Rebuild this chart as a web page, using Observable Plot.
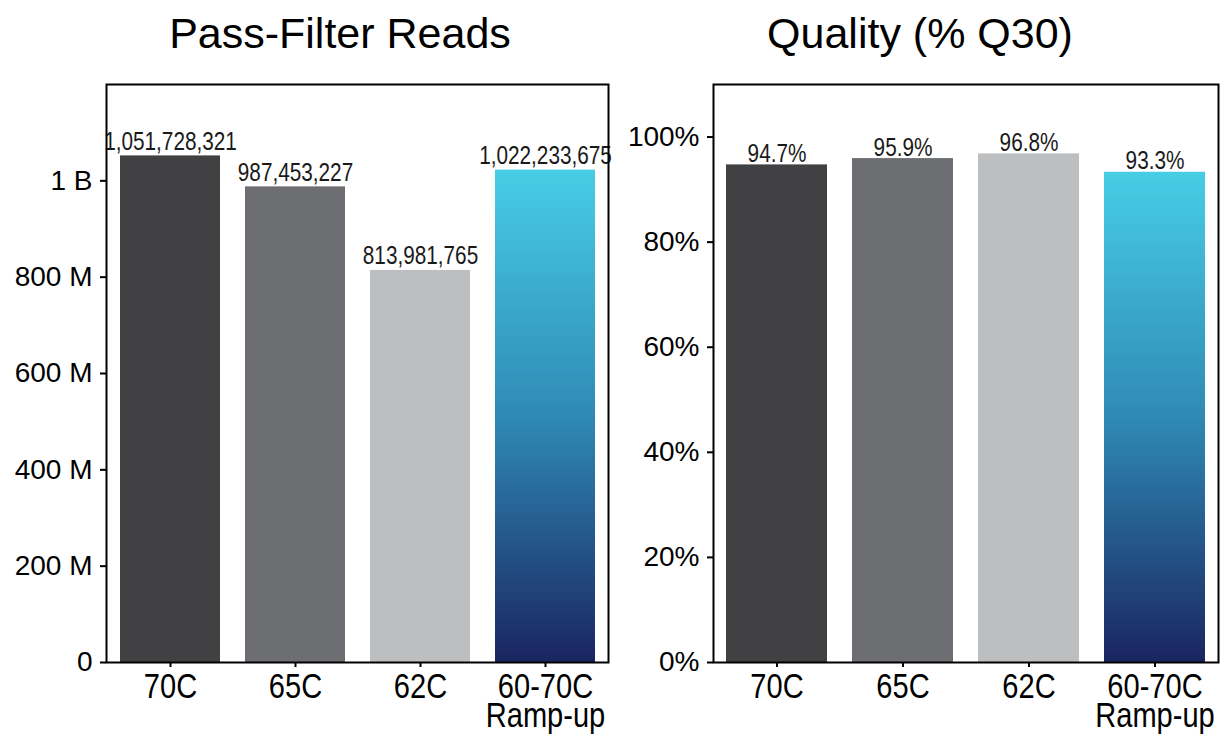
<!DOCTYPE html>
<html>
<head>
<meta charset="utf-8">
<script src="https://cdn.jsdelivr.net/npm/d3@7"></script>
<script src="https://cdn.jsdelivr.net/npm/@observablehq/plot@0.6"></script>
<style>
  html, body { margin: 0; padding: 0; background: #fff; }
  #root { position: relative; width: 1228px; height: 753px; overflow: hidden; font-family: "Liberation Sans", Arial, sans-serif; }
  .title { position: absolute; top: 12px; font-size: 43px; line-height: 1; white-space: nowrap; transform: translateX(-50%); color: #000; }
  .panel { position: absolute; top: 64px; }
</style>
</head>
<body>
<div id="root">
  <div class="title" style="left:340px">Pass-Filter Reads</div>
  <div class="title" style="left:920px">Quality (% Q30)</div>
  <div class="panel" id="left" style="left:0px"></div>
  <div class="panel" id="right" style="left:614px"></div>
</div>
<script>
// ---- data ----
const categories = ["70C", "65C", "62C", "60-70C"];
const categoryLabels = ["70C", "65C", "62C", "60-70C\nRamp-up"];
const barColors = ["#414042", "#6d6e71", "#bcbec0", "ramp"];
const reads = [1051728321, 987453227, 813981765, 1022233675];
const q30 = [0.947, 0.959, 0.968, 0.933];
const readsTicks = [0, 200e6, 400e6, 600e6, 800e6, 1e9];
const readsTickLabels = ["0", "200 M", "400 M", "600 M", "800 M", "1 B"];
const q30Ticks = [0, 0.2, 0.4, 0.6, 0.8, 1.0];
const q30TickLabels = ["0%", "20%", "40%", "60%", "80%", "100%"];
const readsDomain = [0, 1.2e9];
const q30Domain = [0, 1.1];

const REG = '"Liberation Sans", Arial, sans-serif';
const CONDENSE = 0.83; // emulate a narrow face

function makePanel({values, fmt, domain, ticks, tickLabels, gradId, marginLeft, marginRight, labelDy}) {
  const data = categories.map((c, i) => ({
    cat: c,
    value: values[i],
    label: fmt(values[i]),
    color: barColors[i] === "ramp" ? `url(#${gradId})` : barColors[i]
  }));
  const svg = Plot.plot({
    width: 614,
    height: 689,
    marginTop: 20,
    marginBottom: 91,
    marginLeft,
    marginRight,
    style: {fontFamily: REG, background: "white", color: "black"},
    x: {domain: categories, paddingInner: 0.2, paddingOuter: 0.1, axis: null},
    y: {domain, axis: null},
    color: {type: "identity"},
    marks: [
      Plot.barY(data, {x: "cat", y: "value", fill: "color"}),
      Plot.text(data, {x: "cat", y: "value", text: "label", dy: -labelDy, lineAnchor: "bottom",
        fontSize: 25, fill: "#1a1a1a"}),
      Plot.axisY({ticks, tickFormat: d => tickLabels[ticks.indexOf(d)], tickSize: 6, tickPadding: 8,
        fontSize: 28, strokeWidth: 2, label: null}),
      Plot.axisX({tickFormat: d => categoryLabels[categories.indexOf(d)], tickSize: 5, tickPadding: 10,
        fontSize: 35, lineHeight: 0.83, strokeWidth: 2, label: null}),
      Plot.frame({stroke: "black", strokeWidth: 2})
    ]
  });
  const ns = "http://www.w3.org/2000/svg";
  const defs = document.createElementNS(ns, "defs");
  defs.innerHTML = `<linearGradient id="${gradId}" x1="0" y1="0" x2="0" y2="1">
      <stop offset="0" stop-color="#47cde5"/>
      <stop offset="0.5" stop-color="#2f8ab5"/>
      <stop offset="1" stop-color="#1a2560"/>
    </linearGradient>`;
  svg.insertBefore(defs, svg.firstChild);
  return svg;
}

function condense(svg) {
  const groups = svg.querySelectorAll('g[aria-label="text"], g[aria-label="x-axis tick label"]');
  groups.forEach(g => {
    g.querySelectorAll("text").forEach(t => {
      const spans = t.querySelectorAll("tspan");
      const targets = spans.length ? Array.from(spans) : [t];
      targets.forEach(el => {
        const len = el.getComputedTextLength();
        if (len > 0) {
          el.setAttribute("textLength", (len * CONDENSE).toFixed(2));
          el.setAttribute("lengthAdjust", "spacingAndGlyphs");
        }
      });
    });
  });
}

const leftSvg = makePanel({
  values: reads, fmt: d3.format(","), domain: readsDomain, ticks: readsTicks, tickLabels: readsTickLabels,
  gradId: "gradReads", marginLeft: 106, marginRight: 6, labelDy: 6
});
document.getElementById("left").appendChild(leftSvg);
const rightSvg = makePanel({
  values: q30, fmt: d3.format(".1%"), domain: q30Domain, ticks: q30Ticks, tickLabels: q30TickLabels,
  gradId: "gradQ30", marginLeft: 99, marginRight: 10, labelDy: 3
});
document.getElementById("right").appendChild(rightSvg);
condense(leftSvg);
condense(rightSvg);
</script>
</body>
</html>
